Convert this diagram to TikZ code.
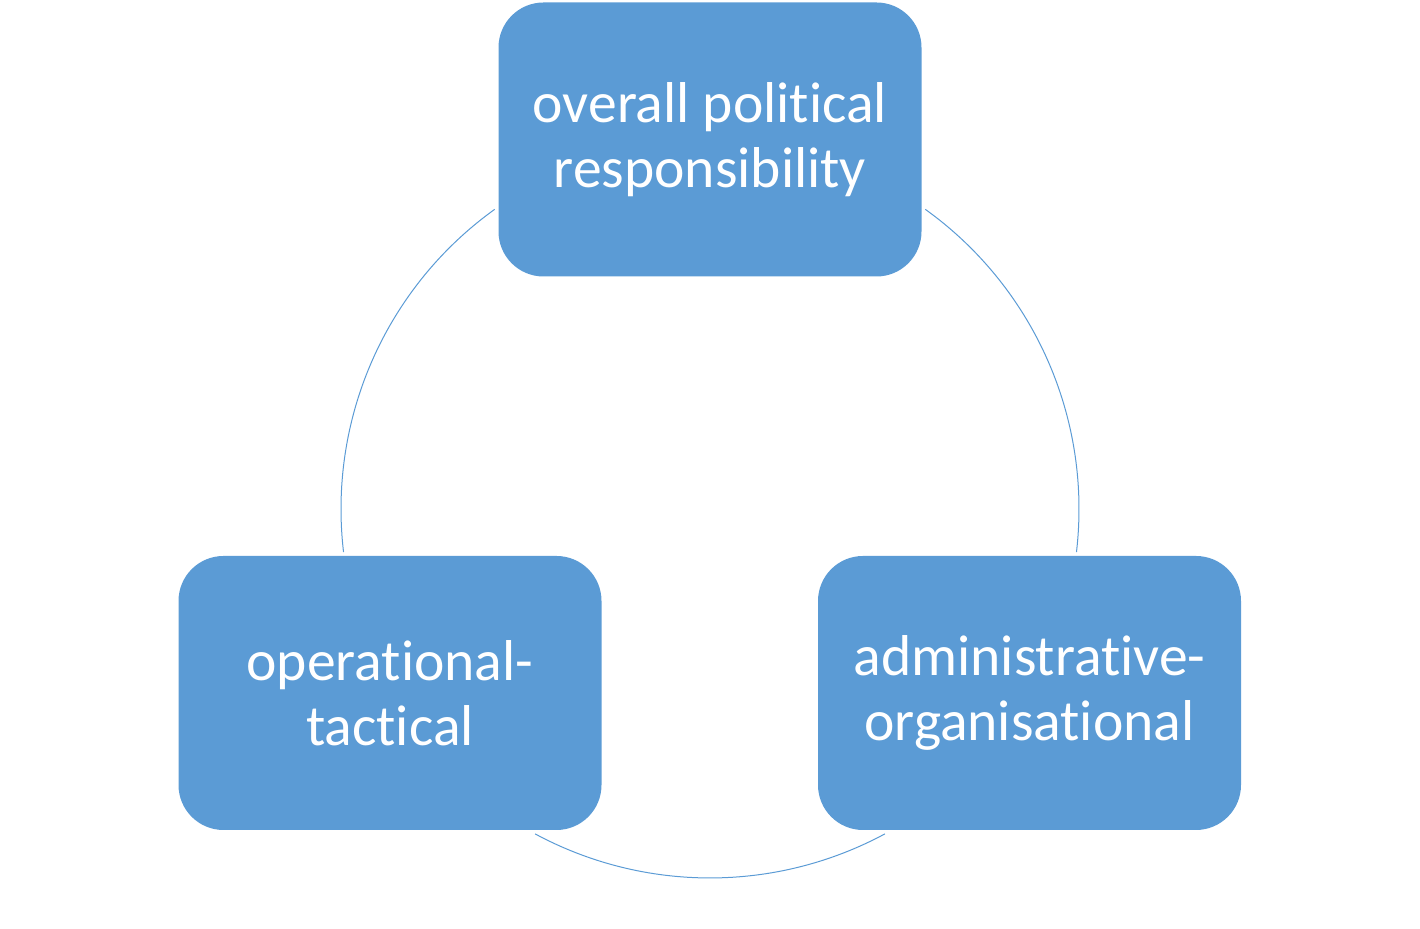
\documentclass[tikz,border=0pt]{standalone}
\usepackage{fontspec}
\setmainfont{Carlito}[Ligatures=NoCommon]
\usetikzlibrary{positioning,calc}
\definecolor{stageblue}{HTML}{5B9BD5}

\begin{document}
\begin{tikzpicture}[x=0.5pt,y=0.5pt,
		stage/.style={rectangle, rounded corners=22.5pt, fill=stageblue, text=white, align=center, minimum width=211.5pt, minimum height=137pt, font=\fontsize{28.8}{32.5}\selectfont},
		ring/.style={draw=stageblue, line width=0.5pt}]
		\useasboundingbox (0,0) rectangle (1420,929);
		
		% Cycle arcs around the centre
		\coordinate (hub) at (710,420);
		\foreach \a/\b in {125.7/186.7, 241.7/298.3, -6.7/54.3} {
			\draw[ring] ([shift={(\a:369)}]hub) arc[start angle=\a, end angle=\b, radius=369];
		}
		
		% Draw stage boxes
		\node[stage] (political) at (710,789.5) {overall political\\responsibility};
		\node[stage] (tactical) at (390,236) {operational-\\tactical};
		\node[stage] (admin) at (1029.5,236) {administrative-\\organisational};
	\end{tikzpicture}
\end{document}
